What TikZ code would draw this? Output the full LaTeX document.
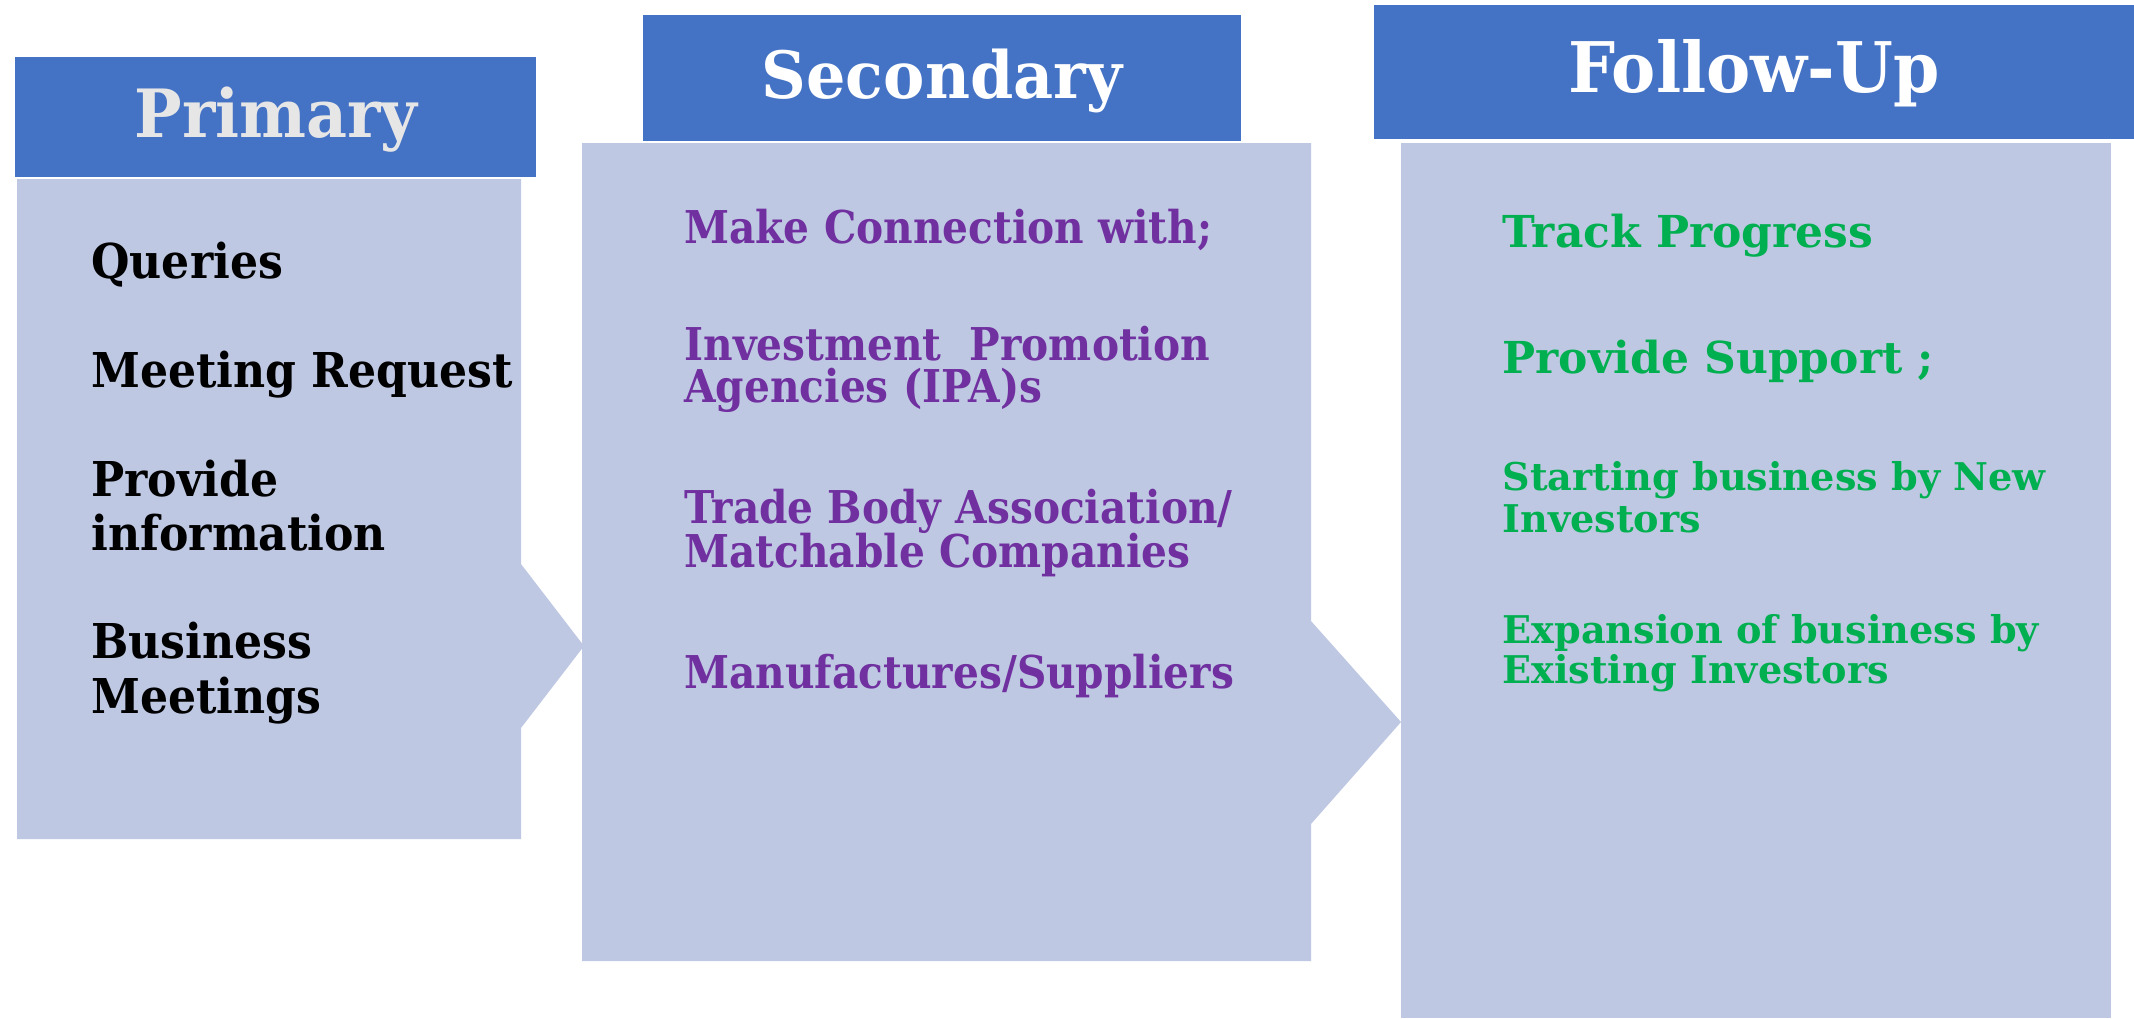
\documentclass[tikz,border=0pt]{standalone}
\usepackage{fontspec}
\setmainfont{DejaVu Serif}
\newfontfamily\fhead[FakeStretch=0.95]{DejaVu Serif}
\newfontfamily\fprim[FakeStretch=0.92]{DejaVu Serif}
\newfontfamily\fsec[FakeStretch=0.90]{DejaVu Serif}
\definecolor{hdr}{HTML}{4472C4}
\definecolor{bodyc}{HTML}{BFC8E3}
\definecolor{purp}{HTML}{7030A0}
\definecolor{grn}{HTML}{00B050}
\definecolor{ltgrey}{HTML}{E7E6E6}
\begin{document}
\begin{tikzpicture}[x=0.5pt,y=-0.5pt,
  hdrbox/.style={fill=hdr},
  bodybox/.style={fill=bodyc},
  hdrtext/.style={anchor=base,inner sep=0pt},
  primtext/.style={anchor=base west,inner sep=0pt,font=\fprim\bfseries\fontsize{24}{27}\selectfont,text=black},
  sectext/.style={anchor=base west,inner sep=0pt,font=\fsec\bfseries\fontsize{22.6}{24}\selectfont,text=purp},
  fuptext/.style={anchor=base west,inner sep=0pt,font=\bfseries\fontsize{22}{24}\selectfont,text=grn},
  fupsmall/.style={anchor=base west,inner sep=0pt,font=\bfseries\fontsize{19.1}{21}\selectfont,text=grn}]
\useasboundingbox (0,0) rectangle (2134,1018);
% bodies
\fill[bodybox] (17,179) -- (521,179) -- (521,564) -- (584,646) -- (521,728) -- (521,839) -- (17,839) -- cycle;
\fill[bodybox] (582,143) -- (1311,143) -- (1311,621) -- (1401,722) -- (1311,824) -- (1311,961) -- (582,961) -- cycle;
\fill[bodybox] (1401,143) rectangle (2111,1018);
% headers
\fill[hdrbox] (15,57) rectangle (536,177);
\fill[hdrbox] (643,15) rectangle (1241,141);
\fill[hdrbox] (1374,5) rectangle (2134,139);
% header texts
\node[hdrtext,text=ltgrey,font=\fhead\bfseries\fontsize{33.3}{36}\selectfont] (hp) at (276,137) {Primary};
\node[hdrtext,text=white,font=\fhead\bfseries\fontsize{32.6}{36}\selectfont] (hs) at (942,98) {Secondary};
\node[hdrtext,text=white,font=\fhead\bfseries\fontsize{34.9}{36}\selectfont] (hf) at (1754,92) {Follow-Up};
% primary
\node[primtext] (p1) at (91,278) {Queries};
\node[primtext] (p2) at (91,387) {Meeting Request};
\node[primtext] (p3a) at (91,496) {Provide};
\node[primtext] (p3b) at (91,550) {information};
\node[primtext] (p4a) at (91,658) {Business};
\node[primtext] (p4b) at (91,713) {Meetings};
% secondary
\node[sectext] (s1) at (684,243) {Make Connection with;};
\node[sectext] (s2a) at (684,360) {Investment\ \ Promotion};
\node[sectext] (s2b) at (684,402) {Agencies (IPA)s};
\node[sectext] (s3a) at (684,523) {Trade Body Association/};
\node[sectext] (s3b) at (684,567) {Matchable Companies};
\node[sectext] (s4) at (684,688) {Manufactures/Suppliers};
% follow-up
\node[fuptext] (f1) at (1502,247) {Track Progress};
\node[fuptext] (f2) at (1502,373) {Provide Support ;};
\node[fupsmall] (f3a) at (1502,490) {Starting business by New};
\node[fupsmall] (f3b) at (1502,532) {Investors};
\node[fupsmall] (f4a) at (1502,643) {Expansion of business by};
\node[fupsmall] (f4b) at (1502,683) {Existing Investors};
\end{tikzpicture}
\end{document}
